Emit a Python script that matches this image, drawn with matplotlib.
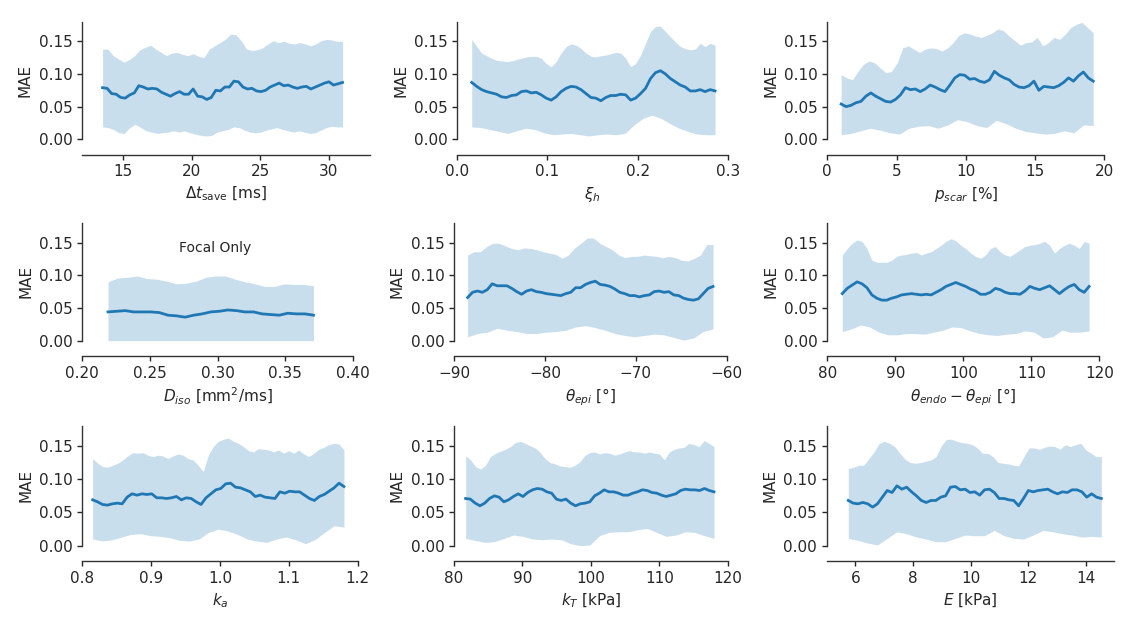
import numpy as np
import matplotlib
matplotlib.use("Agg")
import matplotlib.pyplot as plt

# ---------------- data ----------------
p1_range = (13.5, 31.0)
p1_mean = [0.079,0.078,0.070,0.069,0.064,0.063,0.068,0.071,0.082,0.080,0.077,0.078,0.077,0.072,0.069,0.066,0.070,0.073,
           0.069,0.069,0.077,0.066,0.065,0.061,0.064,0.075,0.074,0.080,0.080,0.089,0.088,0.080,0.077,0.078,0.074,0.073,
           0.075,0.080,0.083,0.086,0.082,0.083,0.080,0.078,0.080,0.081,0.077,0.080,0.083,0.086,0.088,0.083,0.085,0.087]
p1_upper = [0.138,0.138,0.128,0.123,0.118,0.122,0.128,0.137,0.141,0.144,0.138,0.133,0.128,0.132,0.133,0.130,0.128,0.131,
            0.127,0.125,0.138,0.143,0.148,0.153,0.161,0.160,0.151,0.138,0.136,0.137,0.140,0.146,0.151,0.148,0.150,0.147,
            0.146,0.148,0.146,0.143,0.146,0.151,0.153,0.152,0.150,0.150]
p1_lower = [0.019,0.018,0.015,0.010,0.009,0.018,0.023,0.018,0.013,0.011,0.009,0.010,0.011,0.013,0.011,0.013,0.010,0.008,
            0.006,0.005,0.006,0.011,0.013,0.015,0.019,0.018,0.014,0.011,0.010,0.011,0.014,0.016,0.018,0.015,0.013,0.011,
            0.013,0.011,0.009,0.010,0.014,0.018,0.020,0.019,0.019]

p2_range = (0.016, 0.286)
p2_mean = [0.087,0.081,0.076,0.073,0.071,0.069,0.065,0.064,0.067,0.068,0.073,0.074,0.071,0.072,0.068,0.063,0.060,0.065,
           0.073,0.078,0.081,0.080,0.076,0.070,0.064,0.063,0.059,0.064,0.067,0.067,0.069,0.068,0.060,0.063,0.070,0.078,
           0.093,0.102,0.105,0.100,0.093,0.088,0.083,0.080,0.074,0.074,0.076,0.073,0.076,0.074]
p2_upper = [0.153,0.142,0.132,0.128,0.124,0.121,0.120,0.119,0.120,0.122,0.124,0.126,0.127,0.127,0.124,0.116,0.111,0.119,
            0.132,0.142,0.146,0.144,0.139,0.132,0.127,0.126,0.128,0.129,0.131,0.133,0.132,0.124,0.111,0.116,0.129,0.147,
            0.165,0.173,0.173,0.165,0.157,0.149,0.142,0.139,0.137,0.138,0.147,0.142,0.147,0.144]
p2_lower = [0.019,0.018,0.015,0.012,0.009,0.013,0.017,0.015,0.010,0.007,0.008,0.009,0.007,0.005,0.007,0.008,0.007,0.009,
            0.022,0.032,0.037,0.032,0.024,0.017,0.012,0.008,0.007,0.007]

p3_range = (1.0, 19.2)
p3_mean = [0.054,0.050,0.052,0.056,0.058,0.066,0.071,0.066,0.062,0.058,0.057,0.061,0.068,0.079,0.076,0.077,0.073,0.077,
           0.083,0.080,0.076,0.073,0.083,0.094,0.099,0.098,0.092,0.093,0.089,0.087,0.091,0.104,0.098,0.094,0.091,0.084,
           0.080,0.079,0.082,0.089,0.075,0.081,0.080,0.079,0.082,0.087,0.094,0.089,0.097,0.103,0.094,0.089]
p3_upper = [0.099,0.094,0.091,0.104,0.115,0.120,0.117,0.109,0.102,0.104,0.117,0.140,0.143,0.138,0.133,0.138,0.140,0.139,
            0.135,0.140,0.148,0.159,0.163,0.161,0.158,0.156,0.159,0.163,0.169,0.166,0.158,0.151,0.144,0.148,0.149,0.156,
            0.143,0.148,0.156,0.153,0.161,0.171,0.176,0.179,0.171,0.163]
p3_lower = [0.007,0.009,0.013,0.017,0.014,0.010,0.008,0.017,0.020,0.021,0.017,0.022,0.030,0.027,0.021,0.018,0.029,0.024,
            0.017,0.012,0.010,0.008,0.009,0.013,0.010,0.022,0.021]

p4_range = (0.219, 0.371)
p4_mean = [0.044,0.045,0.046,0.044,0.044,0.044,0.043,0.039,0.038,0.036,0.039,0.041,0.044,0.045,0.047,0.046,0.044,0.044,
           0.041,0.040,0.039,0.042,0.041,0.041,0.039]
p4_upper = [0.090,0.096,0.097,0.099,0.095,0.094,0.091,0.087,0.088,0.091,0.097,0.099,0.099,0.094,0.090,0.087,0.083,0.083,
            0.087,0.086,0.086,0.084]
p4_lower = [0.000,0.000,0.000,0.000,0.000,0.000]

p5_range = (-88.5, -61.5)
p5_mean = [0.066,0.074,0.076,0.074,0.078,0.087,0.084,0.084,0.084,0.080,0.075,0.071,0.076,0.078,0.075,0.074,0.072,0.071,
           0.070,0.069,0.072,0.074,0.081,0.081,0.086,0.089,0.091,0.086,0.085,0.083,0.079,0.074,0.072,0.069,0.069,0.067,
           0.069,0.070,0.075,0.076,0.074,0.075,0.070,0.069,0.065,0.063,0.062,0.064,0.072,0.080,0.083]
p5_upper = [0.131,0.136,0.136,0.144,0.149,0.149,0.145,0.141,0.139,0.142,0.141,0.139,0.136,0.134,0.132,0.126,0.131,0.142,
            0.149,0.157,0.157,0.149,0.144,0.139,0.131,0.127,0.129,0.129,0.131,0.130,0.129,0.127,0.129,0.127,0.123,0.122,
            0.126,0.131,0.147,0.147]
p5_lower = [0.006,0.011,0.013,0.019,0.016,0.014,0.011,0.011,0.013,0.014,0.016,0.021,0.023,0.020,0.016,0.011,0.008,0.006,
            0.008,0.010,0.009,0.005,0.001,0.004,0.014,0.018]

p6_range = (82.2, 118.5)
p6_mean = [0.072,0.080,0.085,0.090,0.087,0.081,0.070,0.065,0.062,0.062,0.065,0.067,0.070,0.071,0.072,0.071,0.070,0.071,
           0.070,0.074,0.078,0.083,0.086,0.089,0.086,0.083,0.079,0.076,0.071,0.071,0.074,0.080,0.078,0.074,0.072,0.072,
           0.071,0.076,0.083,0.080,0.078,0.081,0.084,0.078,0.072,0.078,0.083,0.086,0.078,0.074,0.083]
p6_upper = [0.131,0.141,0.149,0.154,0.152,0.141,0.123,0.120,0.120,0.120,0.123,0.129,0.131,0.132,0.134,0.135,0.131,0.134,
            0.136,0.141,0.146,0.152,0.156,0.153,0.146,0.141,0.134,0.129,0.126,0.131,0.141,0.144,0.136,0.131,0.129,0.134,
            0.139,0.144,0.146,0.147,0.149,0.152,0.146,0.134,0.141,0.146,0.149,0.146,0.141,0.152,0.149]
p6_lower = [0.014,0.018,0.024,0.021,0.013,0.009,0.009,0.011,0.011,0.010,0.013,0.016,0.021,0.020,0.015,0.011,0.009,0.008,
            0.010,0.011,0.015,0.013,0.004,0.006,0.016,0.013,0.013,0.015]

p7_range = (0.815, 1.180)
p7_mean = [0.069,0.066,0.062,0.061,0.063,0.064,0.063,0.073,0.078,0.076,0.078,0.077,0.078,0.072,0.072,0.071,0.072,0.074,
           0.069,0.072,0.071,0.066,0.062,0.072,0.078,0.084,0.086,0.093,0.094,0.088,0.087,0.084,0.081,0.074,0.076,0.073,
           0.072,0.071,0.081,0.079,0.082,0.081,0.081,0.076,0.071,0.068,0.074,0.077,0.082,0.087,0.094,0.089]
p7_upper = [0.131,0.124,0.119,0.118,0.121,0.124,0.129,0.135,0.140,0.139,0.140,0.136,0.134,0.136,0.135,0.131,0.135,0.138,
            0.136,0.131,0.129,0.121,0.111,0.136,0.149,0.157,0.160,0.162,0.157,0.154,0.149,0.143,0.141,0.146,0.145,0.144,
            0.141,0.144,0.139,0.143,0.139,0.144,0.138,0.134,0.139,0.145,0.148,0.152,0.154,0.153,0.144]
p7_lower = [0.010,0.007,0.009,0.013,0.017,0.018,0.015,0.014,0.012,0.008,0.007,0.010,0.020,0.025,0.022,0.017,0.010,0.007,
            0.005,0.010,0.013,0.009,0.003,0.009,0.020,0.030,0.028]

p8_range = (81.7, 118.0)
p8_mean = [0.071,0.070,0.064,0.060,0.064,0.071,0.075,0.073,0.066,0.069,0.074,0.078,0.074,0.080,0.084,0.086,0.085,0.081,
           0.079,0.070,0.068,0.070,0.064,0.060,0.063,0.064,0.066,0.075,0.079,0.084,0.081,0.081,0.079,0.076,0.076,0.079,
           0.081,0.084,0.083,0.080,0.079,0.076,0.074,0.076,0.078,0.083,0.085,0.084,0.084,0.083,0.086,0.083,0.081]
p8_upper = [0.135,0.129,0.119,0.115,0.121,0.134,0.139,0.142,0.145,0.149,0.155,0.157,0.154,0.150,0.147,0.140,0.131,0.125,
            0.123,0.120,0.119,0.118,0.121,0.126,0.136,0.140,0.141,0.138,0.140,0.139,0.136,0.138,0.141,0.143,0.141,0.141,
            0.139,0.141,0.139,0.138,0.129,0.141,0.145,0.147,0.148,0.154,0.152,0.149,0.158,0.154,0.149]
p8_lower = [0.011,0.008,0.005,0.006,0.011,0.016,0.014,0.010,0.009,0.010,0.009,0.003,0.000,0.001,0.015,0.020,0.021,0.021,
            0.024,0.026,0.020,0.014,0.016,0.021,0.020,0.015,0.011]

p9_range = (5.75, 14.55)
p9_mean = [0.068,0.064,0.063,0.065,0.063,0.058,0.063,0.073,0.083,0.080,0.090,0.085,0.088,0.081,0.075,0.068,0.065,0.068,
           0.068,0.073,0.075,0.088,0.089,0.084,0.085,0.080,0.081,0.076,0.084,0.085,0.080,0.071,0.071,0.069,0.068,0.060,
           0.071,0.083,0.081,0.083,0.084,0.085,0.081,0.078,0.081,0.080,0.084,0.084,0.081,0.073,0.078,0.073,0.071]
p9_upper = [0.116,0.118,0.121,0.121,0.131,0.141,0.154,0.157,0.154,0.149,0.139,0.130,0.125,0.124,0.125,0.127,0.129,0.134,
            0.150,0.160,0.160,0.157,0.155,0.154,0.152,0.147,0.139,0.139,0.134,0.125,0.124,0.123,0.121,0.120,0.134,0.147,
            0.147,0.145,0.148,0.150,0.149,0.145,0.152,0.149,0.152,0.154,0.144,0.139,0.134,0.134]
p9_lower = [0.011,0.008,0.004,0.001,0.011,0.021,0.018,0.013,0.010,0.006,0.006,0.011,0.016,0.015,0.015,0.023,0.015,0.011,
            0.010,0.016,0.023,0.021,0.018,0.016,0.013,0.014,0.013]

x_labels = [r'$\Delta t_{\mathrm{save}}$ [ms]', r'$\xi_h$', r'$p_{scar}$ [%]',
            r'$D_{iso}$ [mm$^2$/ms]', r'$\theta_{epi}$ [°]', r'$\theta_{endo} - \theta_{epi}$ [°]',
            r'$k_a$', r'$k_T$ [kPa]', r'$E$ [kPa]']
x_limits = [(12, 33), (0, 0.3), (0, 20), (0.2, 0.4), (-90, -60), (80, 120), (0.8, 1.2), (80, 120), (5, 15)]
x_ticks = [[15, 20, 25, 30], [0.0, 0.1, 0.2, 0.3], [0, 5, 10, 15, 20],
           [0.20, 0.25, 0.30, 0.35, 0.40], [-90, -80, -70, -60], [80, 90, 100, 110, 120],
           [0.8, 0.9, 1.0, 1.1, 1.2], [80, 90, 100, 110, 120], [6, 8, 10, 12, 14]]
y_ticks = [0.00, 0.05, 0.10, 0.15]
annotation = "Focal Only"

panels = [
    (p1_range, p1_mean, p1_upper, p1_lower),
    (p2_range, p2_mean, p2_upper, p2_lower),
    (p3_range, p3_mean, p3_upper, p3_lower),
    (p4_range, p4_mean, p4_upper, p4_lower),
    (p5_range, p5_mean, p5_upper, p5_lower),
    (p6_range, p6_mean, p6_upper, p6_lower),
    (p7_range, p7_mean, p7_upper, p7_lower),
    (p8_range, p8_mean, p8_upper, p8_lower),
    (p9_range, p9_mean, p9_upper, p9_lower),
]

# ---------------- layout (pixels) ----------------
W, H = 1124, 619
rows_px = [(21.7, 139.3), (223.0, 340.7), (426.0, 545.7)]
cols_px = [[(82, 370), (457.3, 727.7), (827.3, 1104.3)],
           [(82.3, 352.7), (454, 726.7), (827.3, 1099.3)],
           [(82.3, 357.7), (454, 727.7), (826.7, 1114.3)]]

plt.rcParams['font.family'] = ['DejaVu Sans']
plt.rcParams['mathtext.fontset'] = 'dejavusans'
plt.rcParams['font.size'] = 11

blue = '#1f77b4'
dark = '#262626'
fig = plt.figure(figsize=(W / 100, H / 100), dpi=100)

for i, (rng, mean, upper, lower) in enumerate(panels):
    r, c = divmod(i, 3)
    top, bot = rows_px[r]
    left, right = cols_px[r][c]
    ax = fig.add_axes([left / W, 1 - bot / H, (right - left) / W, (bot - top) / H])

    xm = np.linspace(rng[0], rng[1], len(mean))
    xu = np.linspace(rng[0], rng[1], len(upper))
    xl = np.linspace(rng[0], rng[1], len(lower))
    # common grid for the band
    xb = np.linspace(rng[0], rng[1], 300)
    ub = np.interp(xb, xu, upper)
    lb = np.interp(xb, xl, lower)
    ax.fill_between(xb, lb, ub, color=blue, alpha=0.24, linewidth=0)
    ax.plot(xm, mean, color=blue, lw=2.0)

    ax.set_xlim(*x_limits[i])
    ax.set_ylim(0, 0.18)
    ax.set_xticks(x_ticks[i])
    ax.set_yticks(y_ticks)
    ax.set_xlabel(x_labels[i], fontsize=11, color=dark)
    ax.set_ylabel('MAE', fontsize=11, color=dark)
    for s in ['top', 'right']:
        ax.spines[s].set_visible(False)
    ax.spines['bottom'].set_position(('outward', 11))
    for s in ['left', 'bottom']:
        ax.spines[s].set_color('#333333')
        ax.spines[s].set_linewidth(1.0)
    ax.tick_params(colors=dark, labelsize=11, width=1.0, length=3.5)
    ax.patch.set_visible(False)
    if i == 3:
        ax.text(0.49, 0.79, annotation, transform=ax.transAxes, ha='center', va='center',
                fontsize=10, color=dark)

fig.savefig('out.png', dpi=100)
